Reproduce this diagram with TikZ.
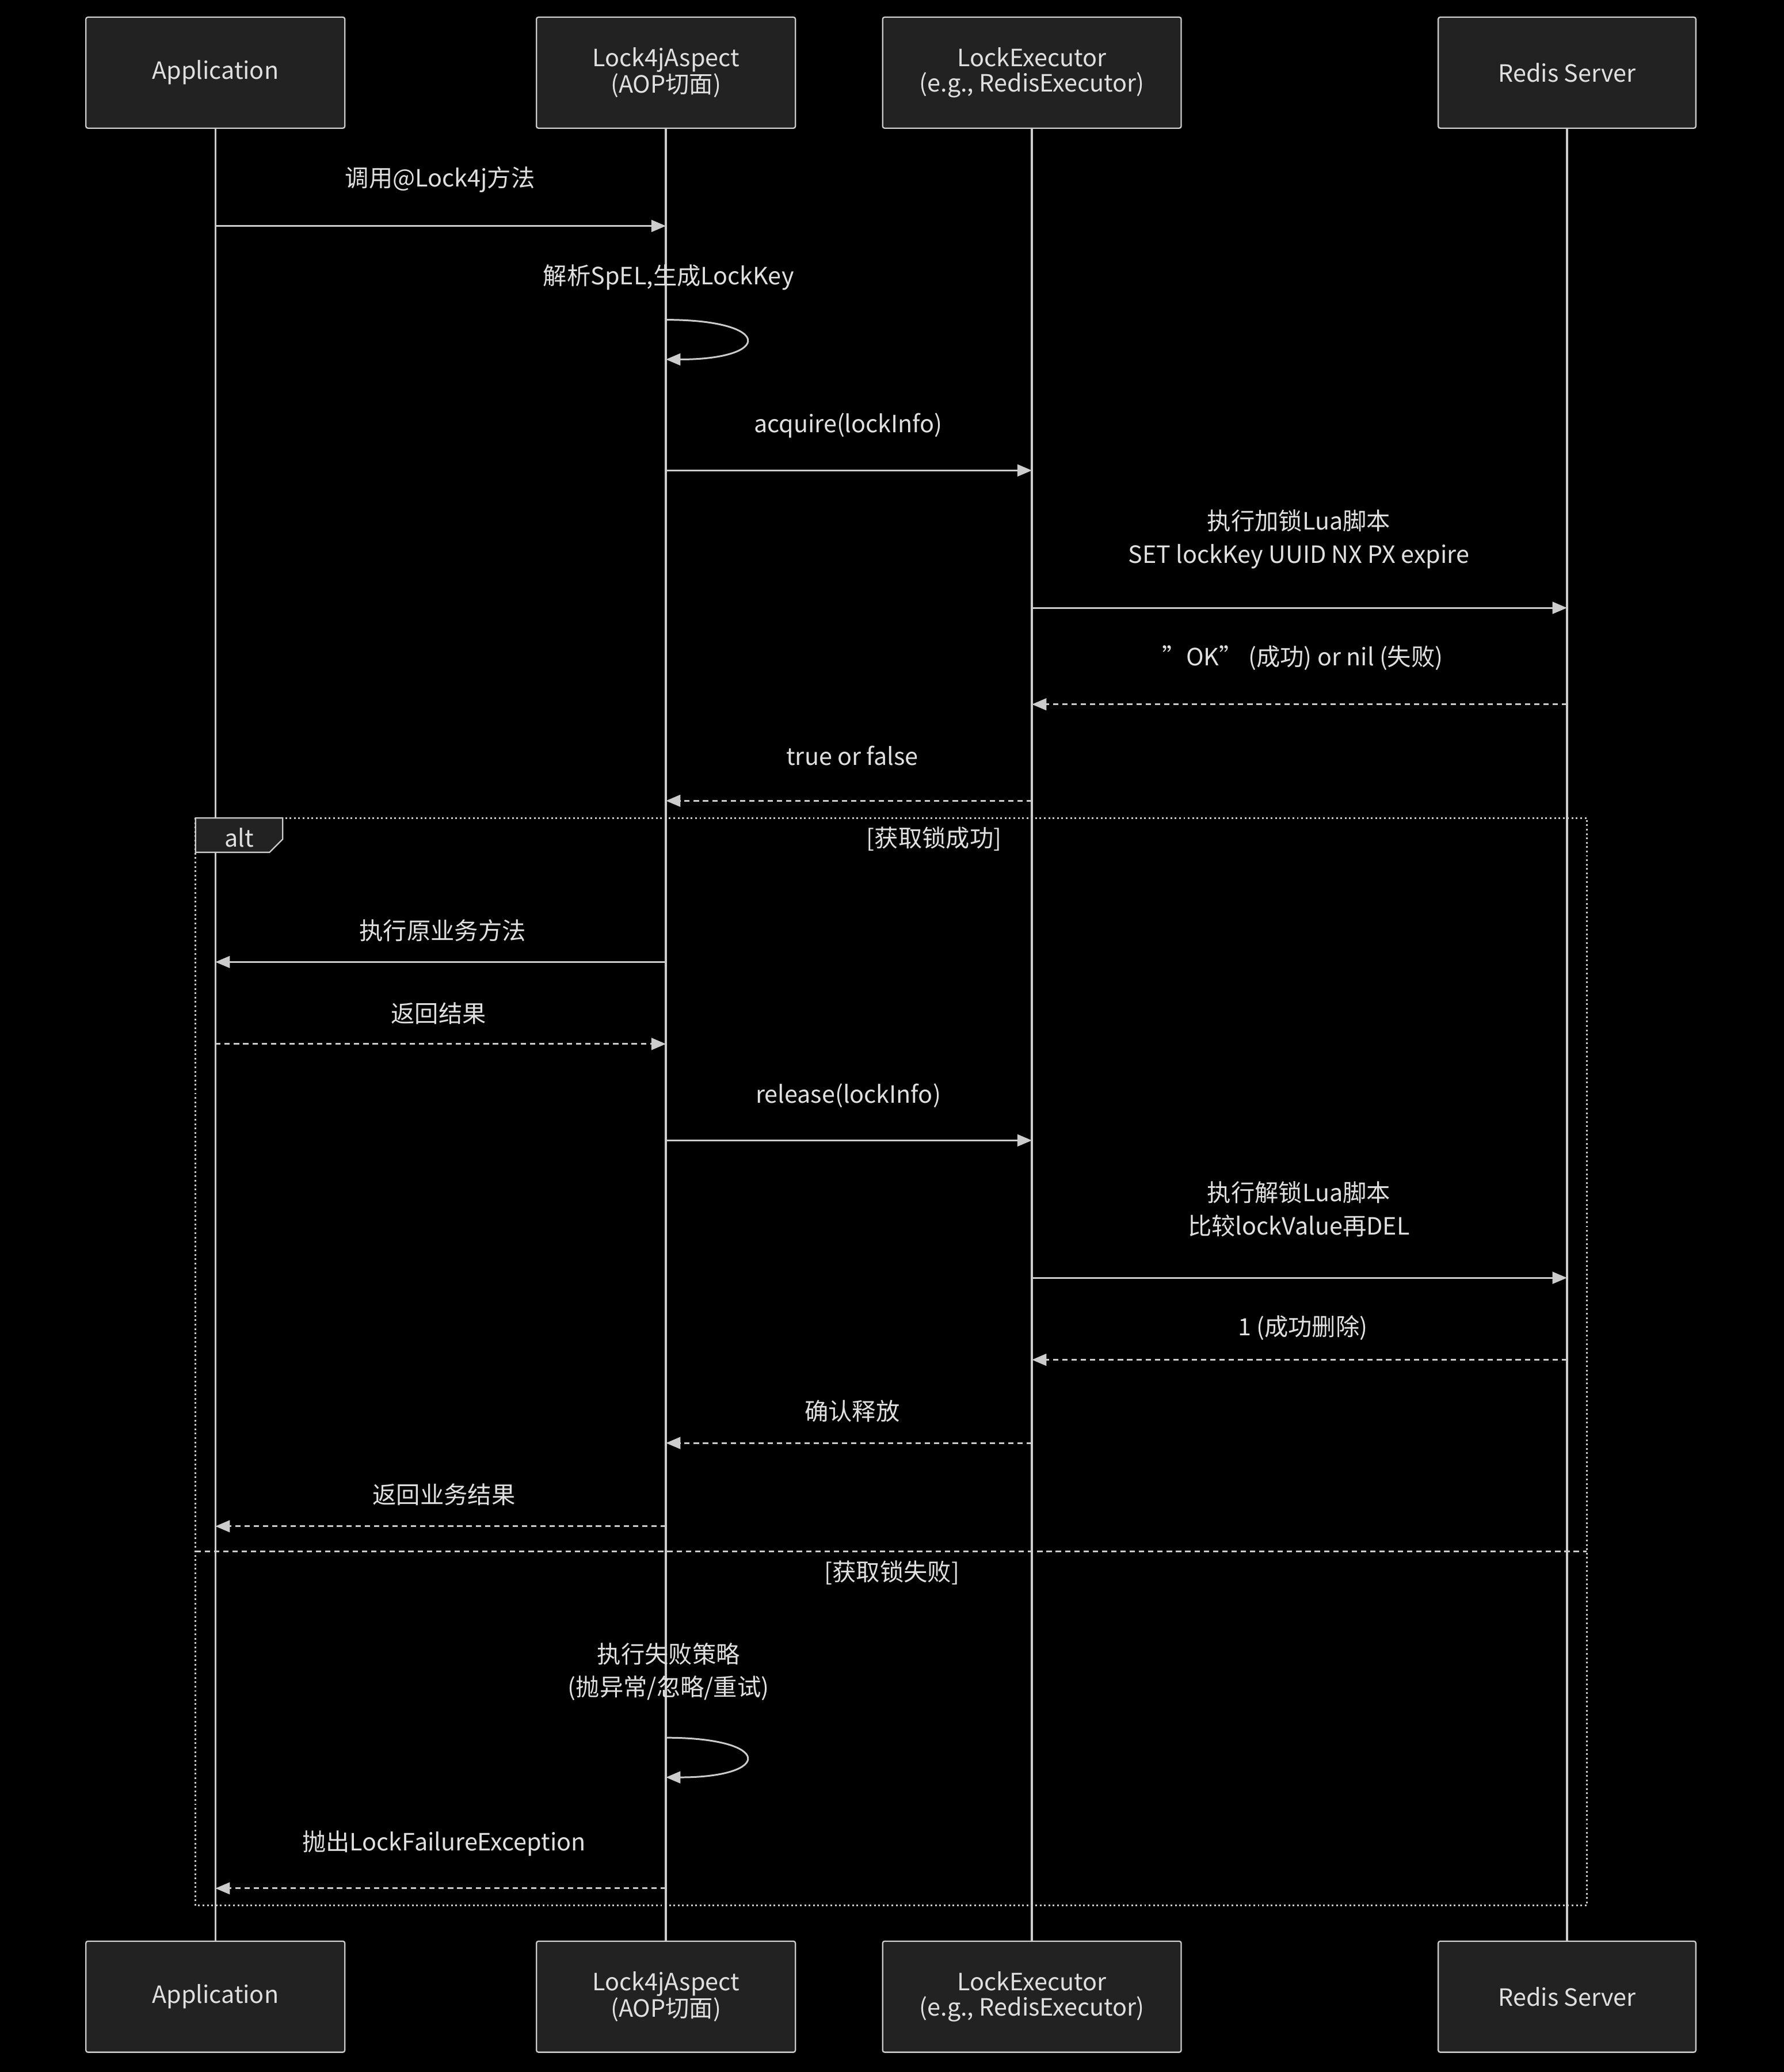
\documentclass[tikz,border=0pt]{standalone}
\usepackage{fontspec}
\setmainfont{Noto Sans CJK SC}
\usetikzlibrary{arrows.meta}
\definecolor{ln}{HTML}{CCCCCC}
\definecolor{tx}{HTML}{E0E0E0}
\definecolor{bx}{HTML}{222222}
\tikzset{
 actor/.style={draw=ln,fill=bx,line width=1pt,rounded corners=1.5pt,minimum height=84pt,text=tx,align=center,font=\fontsize{18}{19}\selectfont},
 life/.style={ln,line width=1.5pt},
 msg/.style={ln,line width=1.3pt,-{Triangle[length=11pt,width=9pt]}},
 rmsg/.style={msg,dash pattern=on 4pt off 3pt},
 lbl/.style={text=tx,font=\fontsize{18}{25}\selectfont,align=center},
}
\begin{document}
\begin{tikzpicture}[x=1pt,y=-1pt]
\fill[black] (0,0) rectangle (1350,1568);
\useasboundingbox (0,0) rectangle (1350,1568);
% lifelines
\foreach \x in {163,504,781,1186}{\draw[life] (\x,97) -- (\x,1469);}
% alt frame
\draw[ln,line width=1.3pt,dotted] (148,619) rectangle (1201,1442);
\draw[ln,line width=1.3pt,dash pattern=on 4pt off 3pt] (148,1174) -- (1201,1174);
\draw[ln,fill=bx,line width=1pt] (148,619) -- (214,619) -- (214,635) -- (204,645) -- (148,645) -- cycle;
\node[lbl] (alt) at (181,634) {alt};
\node[lbl] (g1) at (707,635) {[获取锁成功]};
\node[lbl] (g2) at (675,1190) {[获取锁失败]};
% actors
\foreach \n/\x/\w/\t in {a/163/196/Application,b/504/196/{Lock4jAspect\\(AOP切面)},c/781/226/{LockExecutor\\(e.g., RedisExecutor)},d/1186/195/Redis Server}{
 \node[actor,minimum width=\w pt] (\n top) at (\x,55) {\t};
 \node[actor,minimum width=\w pt] (\n bot) at (\x,1511) {\t};
}
% coordinates
\foreach \y in {171,356,460,533,606,728,790,863,967,1029,1092,1155,1429}{
 \coordinate (A\y) at (163,\y); \coordinate (B\y) at (504,\y);
 \coordinate (C\y) at (781,\y); \coordinate (D\y) at (1186,\y);}
\draw[msg] (A171) -- (B171); \node[lbl] (m1) at (333,136) {调用@Lock4j方法};
\node[lbl] (m2) at (506,210) {解析SpEL,生成LockKey};
\coordinate (s1a) at (504,242); \coordinate (s1b) at (504,272);
\draw[msg] (s1a) .. controls (585,242) and (585,272) .. (s1b);
\draw[msg] (B356) -- (C356); \node[lbl] (m3) at (642,322) {acquire(lockInfo)};
\draw[msg] (C460) -- (D460); \node[lbl] (m4) at (983,408) {执行加锁Lua脚本\\SET lockKey UUID NX PX expire};
\draw[rmsg] (D533) -- (C533); \node[lbl] (m5) at (986,498) {"OK" (成功) or nil (失败)};
\draw[rmsg] (C606) -- (B606); \node[lbl] (m6) at (645,572) {true or false};
\draw[msg] (B728) -- (A728); \node[lbl] (m7) at (335,704) {执行原业务方法};
\draw[rmsg] (A790) -- (B790); \node[lbl] (m8) at (332,767) {返回结果};
\draw[msg] (B863) -- (C863); \node[lbl] (m9) at (642,829) {release(lockInfo)};
\draw[msg] (C967) -- (D967); \node[lbl] (m10) at (983,915) {执行解锁Lua脚本\\比较lockValue再DEL};
\draw[rmsg] (D1029) -- (C1029); \node[lbl] (m11) at (986,1005) {1 (成功删除)};
\draw[rmsg] (C1092) -- (B1092); \node[lbl] (m12) at (645,1068) {确认释放};
\draw[rmsg] (B1155) -- (A1155); \node[lbl] (m13) at (336,1131) {返回业务结果};
\node[lbl] (m14) at (506,1265) {执行失败策略\\(抛异常/忽略/重试)};
\coordinate (s2a) at (504,1315); \coordinate (s2b) at (504,1345);
\draw[msg] (s2a) .. controls (585,1315) and (585,1345) .. (s2b);
\draw[rmsg] (B1429) -- (A1429); \node[lbl] (m15) at (336,1395) {抛出LockFailureException};
\end{tikzpicture}
\end{document}
